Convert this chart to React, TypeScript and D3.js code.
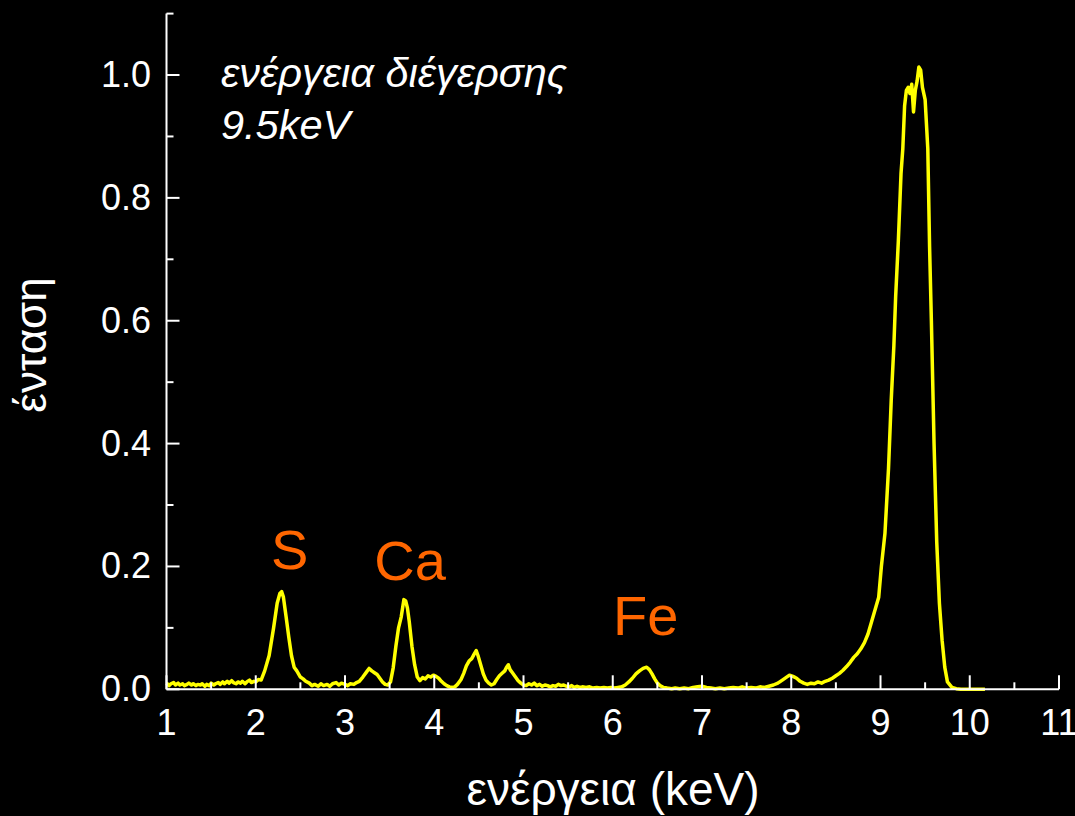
import React from "react";
import * as d3 from "d3";

// X-ray fluorescence spectrum, excitation energy 9.5 keV
// [energy (keV), normalised intensity]
const spectrum: [number, number][] = [
  [1.0, 0.010], [1.03, 0.006], [1.05, 0.009], [1.08, 0.011], [1.1, 0.007], [1.13, 0.010],
  [1.15, 0.007], [1.18, 0.009], [1.2, 0.006], [1.23, 0.008], [1.25, 0.010], [1.28, 0.007],
  [1.3, 0.009], [1.33, 0.006], [1.35, 0.008], [1.38, 0.007], [1.4, 0.009], [1.43, 0.005],
  [1.45, 0.008], [1.48, 0.006], [1.5, 0.010], [1.53, 0.007], [1.55, 0.009], [1.58, 0.011],
  [1.6, 0.008], [1.63, 0.012], [1.65, 0.009], [1.68, 0.013], [1.7, 0.010], [1.73, 0.014],
  [1.75, 0.011], [1.78, 0.009], [1.8, 0.012], [1.83, 0.010], [1.85, 0.013], [1.88, 0.009],
  [1.9, 0.012], [1.93, 0.015], [1.95, 0.011], [1.98, 0.013], [2.0, 0.012], [2.03, 0.016],
  [2.06, 0.015], [2.1, 0.030], [2.15, 0.055], [2.2, 0.100], [2.24, 0.140], [2.27, 0.156],
  [2.29, 0.159], [2.31, 0.150], [2.34, 0.118], [2.37, 0.085], [2.4, 0.055], [2.43, 0.036],
  [2.46, 0.030], [2.5, 0.020], [2.53, 0.017], [2.56, 0.013], [2.6, 0.010], [2.63, 0.006],
  [2.66, 0.008], [2.7, 0.005], [2.73, 0.009], [2.76, 0.006], [2.8, 0.008], [2.83, 0.005],
  [2.86, 0.009], [2.9, 0.011], [2.93, 0.007], [2.96, 0.010], [3.0, 0.008], [3.03, 0.006],
  [3.06, 0.009], [3.1, 0.008], [3.13, 0.011], [3.16, 0.013], [3.2, 0.020], [3.24, 0.028],
  [3.27, 0.034], [3.3, 0.030], [3.33, 0.027], [3.36, 0.024], [3.39, 0.018], [3.42, 0.012],
  [3.45, 0.008], [3.48, 0.007], [3.51, 0.012], [3.54, 0.035], [3.57, 0.070], [3.6, 0.100],
  [3.63, 0.118], [3.66, 0.146], [3.68, 0.144], [3.7, 0.132], [3.72, 0.110], [3.75, 0.070],
  [3.78, 0.040], [3.81, 0.020], [3.84, 0.014], [3.87, 0.019], [3.9, 0.017], [3.93, 0.022],
  [3.96, 0.020], [3.99, 0.023], [4.02, 0.021], [4.05, 0.018], [4.08, 0.013], [4.11, 0.009],
  [4.14, 0.006], [4.17, 0.004], [4.2, 0.003], [4.23, 0.004], [4.26, 0.008], [4.3, 0.016],
  [4.33, 0.026], [4.36, 0.038], [4.39, 0.046], [4.42, 0.050], [4.45, 0.058], [4.47, 0.063],
  [4.49, 0.055], [4.52, 0.040], [4.55, 0.025], [4.58, 0.015], [4.61, 0.010], [4.64, 0.007],
  [4.67, 0.009], [4.7, 0.016], [4.73, 0.022], [4.76, 0.026], [4.79, 0.030], [4.81, 0.036],
  [4.83, 0.040], [4.85, 0.032], [4.88, 0.026], [4.91, 0.020], [4.94, 0.014], [4.97, 0.010],
  [5.0, 0.007], [5.03, 0.006], [5.06, 0.009], [5.09, 0.007], [5.12, 0.010], [5.15, 0.006],
  [5.18, 0.008], [5.21, 0.005], [5.24, 0.007], [5.27, 0.006], [5.3, 0.004], [5.33, 0.006],
  [5.36, 0.005], [5.39, 0.008], [5.42, 0.006], [5.45, 0.007], [5.48, 0.005], [5.51, 0.004],
  [5.54, 0.006], [5.57, 0.003], [5.6, 0.005], [5.63, 0.003], [5.66, 0.004], [5.7, 0.003],
  [5.74, 0.004], [5.78, 0.002], [5.82, 0.003], [5.86, 0.002], [5.9, 0.003], [5.94, 0.002],
  [5.98, 0.003], [6.02, 0.002], [6.06, 0.003], [6.1, 0.004], [6.14, 0.007], [6.18, 0.012],
  [6.22, 0.018], [6.26, 0.025], [6.3, 0.030], [6.34, 0.034], [6.38, 0.036], [6.41, 0.032],
  [6.44, 0.025], [6.47, 0.017], [6.5, 0.010], [6.53, 0.006], [6.57, 0.003], [6.61, 0.002],
  [6.66, 0.001], [6.7, 0.002], [6.75, 0.001], [6.8, 0.002], [6.85, 0.001], [6.9, 0.003],
  [6.95, 0.004], [7.0, 0.005], [7.05, 0.003], [7.1, 0.002], [7.15, 0.001], [7.2, 0.002],
  [7.25, 0.001], [7.3, 0.002], [7.35, 0.003], [7.4, 0.002], [7.45, 0.004], [7.5, 0.002],
  [7.55, 0.003], [7.6, 0.002], [7.65, 0.004], [7.7, 0.003], [7.75, 0.005], [7.8, 0.007],
  [7.85, 0.010], [7.9, 0.015], [7.94, 0.019], [7.98, 0.023], [8.02, 0.021], [8.06, 0.018],
  [8.1, 0.013], [8.14, 0.010], [8.18, 0.008], [8.22, 0.010], [8.26, 0.009], [8.3, 0.012],
  [8.34, 0.010], [8.38, 0.013], [8.42, 0.015], [8.46, 0.018], [8.5, 0.022], [8.54, 0.026],
  [8.58, 0.031], [8.62, 0.037], [8.66, 0.044], [8.7, 0.052], [8.74, 0.058], [8.78, 0.066],
  [8.82, 0.076], [8.86, 0.090], [8.9, 0.110], [8.94, 0.130], [8.98, 0.150], [9.01, 0.200],
  [9.05, 0.254], [9.09, 0.360], [9.12, 0.470], [9.15, 0.560], [9.17, 0.640], [9.2, 0.730],
  [9.23, 0.840], [9.25, 0.880], [9.27, 0.950], [9.29, 0.975], [9.31, 0.980], [9.33, 0.970],
  [9.35, 0.985], [9.37, 0.940], [9.39, 0.975], [9.41, 0.990], [9.43, 1.013], [9.45, 1.008],
  [9.47, 0.980], [9.5, 0.960], [9.53, 0.880], [9.55, 0.720], [9.57, 0.600], [9.6, 0.400],
  [9.63, 0.240], [9.66, 0.140], [9.69, 0.080], [9.72, 0.036], [9.75, 0.012], [9.8, 0.003],
  [9.85, 0.001], [9.9, 0.0], [10.0, 0.0], [10.1, 0.0], [10.17, 0.0],
];

const xTicks = [1, 2, 3, 4, 5, 6, 7, 8, 9, 10, 11];
const xMinorTicks = [1.5, 2.5, 3.5, 4.5, 5.5, 6.5, 7.5, 8.5, 9.5, 10.5];
const yTicks = [0, 0.2, 0.4, 0.6, 0.8, 1.0];
const yMinorTicks = [0.1, 0.3, 0.5, 0.7, 0.9, 1.1];

// element names placed above their fluorescence lines
const elementLabels = [
  { name: "S", energy: 2.38, intensity: 0.196 },
  { name: "Ca", energy: 3.73, intensity: 0.178 },
  { name: "Fe", energy: 6.37, intensity: 0.088 },
];

const W = 1075;
const H = 816;
const font = "'Liberation Sans', Arial, sans-serif";

export default function App() {
  const x = d3.scaleLinear().domain([1, 11]).range([166.5, 1059]);
  const y = d3.scaleLinear().domain([0, 1.1]).range([689.3, 13.6]);

  const line = d3
    .line<[number, number]>()
    .x((d) => x(d[0]))
    .y((d) => y(d[1]));

  const x0 = x(1);
  const y0 = y(0);

  return (
    <svg
      width={W}
      height={H}
      style={{ position: "absolute", left: 0, top: 0, display: "block" }}
    >
      <rect x={0} y={0} width={W} height={H} fill="#000" />

      {/* spectrum */}
      <path
        d={line(spectrum) ?? ""}
        fill="none"
        stroke="#ffff00"
        strokeWidth={3.5}
        strokeLinejoin="round"
      />

      {/* axes */}
      <g stroke="#fff" strokeWidth={2}>
        <line x1={x0} x2={x(11)} y1={y0} y2={y0} />
        <line x1={x0} x2={x0} y1={y0} y2={y(1.1)} />
        {xTicks.map((t) => (
          <line key={"xt" + t} x1={x(t)} x2={x(t)} y1={y0} y2={y0 - 14} />
        ))}
        {xMinorTicks.map((t) => (
          <line key={"xm" + t} x1={x(t)} x2={x(t)} y1={y0} y2={y0 - 7} />
        ))}
        {yTicks.map((t) => (
          <line key={"yt" + t} x1={x0} x2={x0 + 13} y1={y(t)} y2={y(t)} />
        ))}
        {yMinorTicks.map((t) => (
          <line key={"ym" + t} x1={x0} x2={x0 + 7} y1={y(t)} y2={y(t)} />
        ))}
      </g>

      <g fill="#fff" fontFamily={font} fontSize={36}>
        {xTicks.map((t) => (
          <text key={"xl" + t} x={x(t)} y={735} textAnchor="middle">
            {t}
          </text>
        ))}
        {yTicks.map((t) => (
          <text key={"yl" + t} x={151} y={y(t) + 12} textAnchor="end">
            {t.toFixed(1)}
          </text>
        ))}
      </g>

      {/* axis titles */}
      <text
        x={613}
        y={805}
        fill="#fff"
        fontFamily={font}
        fontSize={46}
        textAnchor="middle"
      >
        ενέργεια (keV)
      </text>
      <text
        transform={`translate(46, 345) rotate(-90)`}
        fill="#fff"
        fontFamily={font}
        fontSize={44}
        textAnchor="middle"
      >
        ένταση
      </text>

      {/* excitation note */}
      <g fill="#fff" fontFamily={font} fontSize={41.5} fontStyle="italic">
        <text x={221} y={87}>ενέργεια διέγερσης</text>
        <text x={221} y={139}>9.5keV</text>
      </g>

      {/* element labels */}
      {elementLabels.map((e) => (
        <text
          key={e.name}
          x={x(e.energy)}
          y={y(e.intensity)}
          fill="#ff6600"
          fontFamily={font}
          fontSize={56}
          textAnchor="middle"
        >
          {e.name}
        </text>
      ))}
    </svg>
  );
}
